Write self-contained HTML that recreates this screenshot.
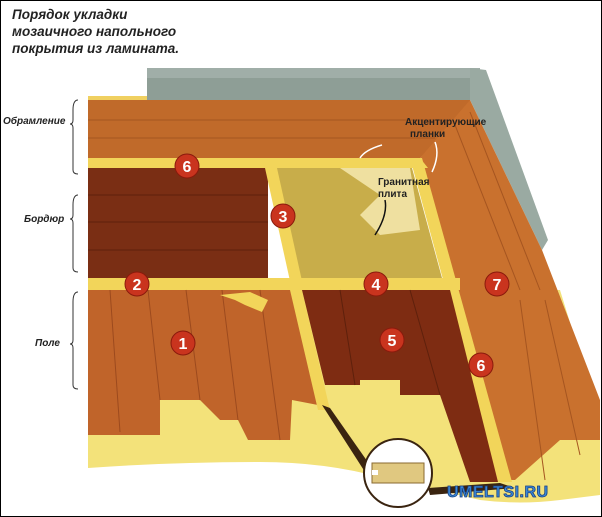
<!DOCTYPE html>
<html><head><meta charset="utf-8"><style>
html,body{margin:0;padding:0;background:#fff}
svg{display:block}
text{font-family:"Liberation Sans","DejaVu Sans",sans-serif}
</style></head><body>
<svg width="602" height="517" viewBox="0 0 602 517" xmlns="http://www.w3.org/2000/svg">
<rect x="0.5" y="0.5" width="601" height="516" fill="#fff" stroke="#000"/>
<!-- subfloor yellow -->
<path d="M88,290 L560,290 L600,420 L600,495 L560,500 Q520,505 480,500 Q430,488 390,480 Q330,462 260,462 Q170,462 88,468 Z" fill="#f3e27a"/>
<!-- baseboard -->
<polygon points="147,68 480,68 480,80 470,100 192,100 192,112 147,112" fill="#8e9e96"/>
<polygon points="147,68 480,68 478,78 147,78" fill="#a0aea8"/>
<polygon points="470,68 486,70 548,240 542,250 470,100" fill="#9aaaa2"/>
<!-- top frame -->
<polygon points="88,100 470,100 470,110 420,158 88,158" fill="#c06a2a"/>
<line x1="88" y1="120" x2="450" y2="120" stroke="#a55520"/>
<line x1="88" y1="138" x2="435" y2="138" stroke="#a55520"/>
<polygon points="88,96 147,96 147,100 88,100" fill="#f0d060"/>
<!-- right frame -->
<polygon points="420,158 470,100 542,250 600,400 600,440 560,440 515,480 500,480" fill="#c9712e"/>
<line x1="470" y1="112" x2="540" y2="290" stroke="#a55520"/>
<line x1="455" y1="125" x2="520" y2="290" stroke="#a55520"/>
<line x1="520" y1="300" x2="545" y2="480" stroke="#a55520"/>
<line x1="545" y1="300" x2="580" y2="455" stroke="#a55520"/>
<!-- yellow strips -->
<polygon points="88,158 420,158 428,168 88,168" fill="#f2d55a"/>
<polygon points="410,158 422,158 512,482 498,482" fill="#f2d55a"/>
<!-- border dark -->
<rect x="88" y="168" width="180" height="110" fill="#7a2e14"/>
<line x1="88" y1="195" x2="268" y2="195" stroke="#5e200c"/>
<line x1="88" y1="222" x2="268" y2="222" stroke="#5e200c"/>
<line x1="88" y1="250" x2="268" y2="250" stroke="#5e200c"/>
<!-- granite -->
<polygon points="268,168 412,168 442,278 292,278" fill="#c8ad4a"/>
<polygon points="340,168 410,168 420,230 380,235 360,215 380,195" fill="#efe0a0"/>
<polygon points="265,168 277,168 304,290 292,290" fill="#f2d55a"/>
<!-- strip y278 -->
<rect x="88" y="278" width="372" height="12" fill="#f2d55a"/>
<!-- field 1 planks -->
<polygon points="88,290 300,290 325,400 318,405 292,400 290,440 248,440 238,420 220,420 200,400 160,400 160,435 88,435" fill="#c0642a"/>
<line x1="110" y1="290" x2="120" y2="432" stroke="#9c4a1e"/>
<line x1="148" y1="290" x2="160" y2="400" stroke="#9c4a1e"/>
<line x1="186" y1="290" x2="200" y2="400" stroke="#9c4a1e"/>
<line x1="222" y1="290" x2="238" y2="420" stroke="#9c4a1e"/>
<line x1="260" y1="290" x2="280" y2="440" stroke="#9c4a1e"/>
<polygon points="220,295 250,292 268,300 262,312 245,305 235,300" fill="#f2d55a"/>
<!-- middle strip -->
<polygon points="290,290 302,290 330,410 318,410" fill="#f2d55a"/>
<!-- field 5 -->
<polygon points="302,290 450,290 498,482 470,482 440,395 400,395 400,380 360,380 360,385 325,385" fill="#7e2c12"/>
<line x1="340" y1="290" x2="355" y2="385" stroke="#5e200c"/>
<line x1="410" y1="290" x2="440" y2="395" stroke="#5e200c"/>
<!-- connectors -->
<polygon points="322,405 330,408 372,468 365,472" fill="#3a2410"/>
<polygon points="500,483 515,488 430,495 428,488" fill="#3a2410"/>
<circle cx="398" cy="473" r="34" fill="#fff" stroke="#3a2410" stroke-width="2"/>
<rect x="372" y="463" width="52" height="20" fill="#e0c880" stroke="#8a6a30"/>
<rect x="372" y="470" width="6" height="5" fill="#fff"/>
<text x="447" y="497" font-size="16" font-weight="bold" fill="#3a8ad8" stroke="#1a3f80" stroke-width="0.8" letter-spacing="0.5">UMELTSI.RU</text>
<!-- badges -->
<g fill="#c9341e" stroke="#8a1a0c" stroke-width="1">
<circle cx="187" cy="166" r="12"/><circle cx="283" cy="216" r="12"/>
<circle cx="137" cy="284" r="12"/><circle cx="376" cy="284" r="12"/>
<circle cx="497" cy="284" r="12"/><circle cx="183" cy="343" r="12"/>
<circle cx="392" cy="340" r="12"/><circle cx="481" cy="365" r="12"/>
</g>
<g fill="#fff" font-size="16" font-weight="bold" text-anchor="middle">
<text x="187" y="172">6</text><text x="283" y="222">3</text>
<text x="137" y="290">2</text><text x="376" y="290">4</text>
<text x="497" y="290">7</text><text x="183" y="349">1</text>
<text x="392" y="346">5</text><text x="481" y="371">6</text>
</g>
<!-- title -->
<g font-size="13.5" font-weight="bold" font-style="italic" fill="#222">
<text x="12" y="19">Порядок укладки</text>
<text x="12" y="36">мозаичного напольного</text>
<text x="12" y="53">покрытия из ламината.</text>
</g>
<g font-size="10" font-style="italic" font-weight="bold" fill="#222">
<text x="3" y="124">Обрамление</text>
<text x="24" y="222">Бордюр</text>
<text x="35" y="346">Поле</text>
</g>
<g fill="none" stroke="#333" stroke-width="1">
<path d="M78,100 Q73,100 73,110 L73,120 Q73,124 70,124 Q73,124 73,128 L73,170 Q73,174 78,174"/>
<path d="M78,195 Q73,195 73,205 L73,215 Q73,219 70,219 Q73,219 73,223 L73,268 Q73,272 78,272"/>
<path d="M78,292 Q73,292 73,302 L73,340 Q73,344 70,344 Q73,344 73,348 L73,385 Q73,389 78,389"/>
</g>
<g font-size="10" font-weight="bold" fill="#222">
<text x="405" y="125">Акцентирующие</text>
<text x="410" y="137">планки</text>
<text x="378" y="185">Гранитная</text>
<text x="378" y="197">плита</text>
</g>
<path d="M382,145 Q365,150 360,158" fill="none" stroke="#fff" stroke-width="1.5"/>
<path d="M435,142 Q440,155 432,172" fill="none" stroke="#fff" stroke-width="1.5"/>
<path d="M385,200 Q388,215 375,235" fill="none" stroke="#111" stroke-width="1.5"/>
</svg>
</body></html>
